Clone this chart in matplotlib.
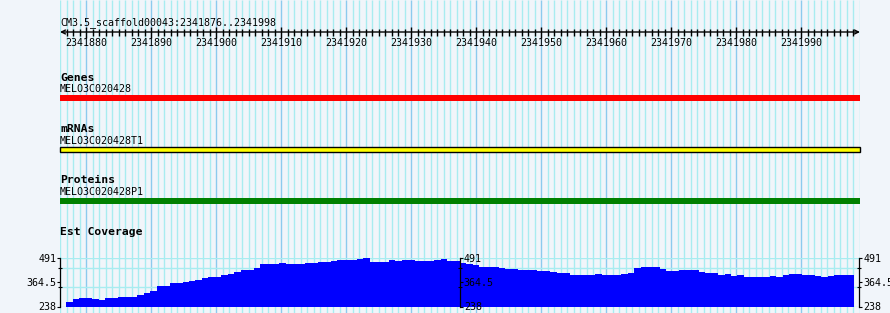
import numpy as np
import matplotlib
matplotlib.use('Agg')
import matplotlib.pyplot as plt
from matplotlib.ticker import FixedLocator

# region shown
SEQ_NAME = 'CM3.5_scaffold00043'
START = 2341876
END = 2341998

# feature tracks: title, feature name, start, end
track_titles = ['Genes', 'mRNAs', 'Proteins']
feature_names = ['MELO3C020428', 'MELO3C020428T1', 'MELO3C020428P1']
feature_starts = [2341876, 2341876, 2341876]
feature_ends = [2341999, 2341999, 2341999]

# est coverage, one value per bin (124 bins over the view, first and last empty)
cov_min = 238
cov_max = 491
cov = [261.5, 277, 284, 284, 277, 272, 284, 284, 289, 289,
       289, 296, 310, 321, 343, 343, 361, 361, 368, 373,
       378, 388, 393, 393, 402, 407, 418, 428, 428, 439,
       460, 460, 460, 465, 460, 460, 460, 465, 465, 470,
       470, 475, 482, 482, 482, 487, 491, 471, 471, 471,
       480, 477, 482, 482, 477, 477, 477, 482, 487, 477,
       477, 467, 461, 456, 446, 446, 446, 441, 435, 432,
       430, 430, 430, 423, 423, 418, 413, 413, 402, 402,
       402, 404, 409, 404, 404, 404, 409, 414, 439, 444,
       444, 444, 434, 425, 425, 430, 430, 430, 420, 414,
       414, 404, 409, 399, 402, 394, 394, 394, 394, 399,
       394, 404, 409, 409, 404, 404, 399, 394, 399, 404,
       404, 404]
n_bins = 124
cov_ticks = [238, 364.5, 491]
cov_minor = [340, 440]

BG = '#f1f5fa'
GRID = '#a8ecf0'
GRID_MAJOR = '#8ccaee'
MONO = 'DejaVu Sans Mono'

W, H = 890, 313
fig = plt.figure(figsize=(W / 100, H / 100), dpi=100, facecolor=BG)

# track area in base coordinates, y in pixels from top
ax = fig.add_axes([60 / W, 0, 800 / W, 1])
ax.set_xlim(START, END + 1)
ax.set_ylim(H, 0)
ax.axis('off')

bases = np.arange(START, END + 2)
minor = bases[bases % 10 != 0]
major = bases[bases % 10 == 0]
ax.vlines(minor, 0, H, color=GRID, lw=1, zorder=0)
ax.vlines(major, 0, H, color=GRID_MAJOR, lw=1, zorder=0)

# ruler
ax.text(START, 25, f'{SEQ_NAME}:{START}..{END}', fontsize=7.2, family=MONO,
        ha='left', va='baseline', clip_on=False)
ax.annotate('', xy=(END + 1, 32), xytext=(START, 32),
            arrowprops=dict(arrowstyle='<->', lw=1, color='black',
                            shrinkA=0, shrinkB=0, mutation_scale=7))
tick_b = np.arange(START + 1, END + 1)
ax.vlines(tick_b[tick_b % 10 != 0], 29, 35.5, color='black', lw=1)
ax.vlines(tick_b[tick_b % 10 == 0], 27, 37.5, color='black', lw=1)
for b in tick_b[tick_b % 10 == 0]:
    ax.text(b, 46, str(b), fontsize=7.2, family=MONO, ha='center', va='baseline')

# feature tracks
title_y = [81, 132, 183]
name_y = [92, 144, 195]
bar_y = [98, 149.5, 200.5]
colors = ['#ff0000', '#ffff00', '#008000']
edges = ['none', 'black', 'none']
for i in range(3):
    ax.text(START, title_y[i], track_titles[i], fontsize=8.2, family=MONO,
            weight='bold', ha='left', va='baseline')
    ax.text(START, name_y[i], feature_names[i], fontsize=7.2, family=MONO,
            ha='left', va='baseline')
    ax.barh(bar_y[i], feature_ends[i] - feature_starts[i], left=feature_starts[i],
            height=6 if i != 1 else 5.5, color=colors[i], edgecolor=edges[i],
            lw=1 if i == 1 else 0, clip_on=False)

ax.text(START, 235, 'Est Coverage', fontsize=8.2, family=MONO,
        weight='bold', ha='left', va='baseline')

# coverage track
cax = fig.add_axes([60 / W, (H - 306.5) / H, 800 / W, 48.5 / H])
cax.patch.set_visible(False)
cax.set_xlim(0, n_bins)
cax.set_ylim(cov_min, cov_max)
cax.hlines([cov_min] + cov_minor + [cov_max], 0, n_bins, color=GRID, lw=1, zorder=0)
x = np.arange(1, len(cov) + 1)
cax.bar(x, np.array(cov) - cov_min, bottom=cov_min, width=1, align='edge',
        color='#0000ff', lw=0, zorder=1)
cax.set_xticks([])
for s in ['top', 'bottom', 'right']:
    cax.spines[s].set_visible(False)


def style_axis(a, side):
    a.yaxis.set_major_locator(FixedLocator(cov_ticks))
    a.yaxis.set_minor_locator(FixedLocator(cov_minor))
    a.set_yticklabels(['238', '364.5', '491'], family=MONO, fontsize=7.2)
    a.tick_params(axis='y', which='major', direction='out', length=2.4,
                  width=0.8, pad=0.3)
    a.tick_params(axis='y', which='minor', direction='inout', length=3.5,
                  width=0.8)
    a.spines[side].set_linewidth(0.9)


style_axis(cax, 'left')

for pos in [0.5, 0.9993]:
    t = cax.twinx()
    t.set_ylim(cov_min, cov_max)
    for s in ['top', 'bottom', 'left']:
        t.spines[s].set_visible(False)
    t.spines['right'].set_position(('axes', pos))
    style_axis(t, 'right')

fig.savefig('out.png', dpi=100, facecolor=BG)
